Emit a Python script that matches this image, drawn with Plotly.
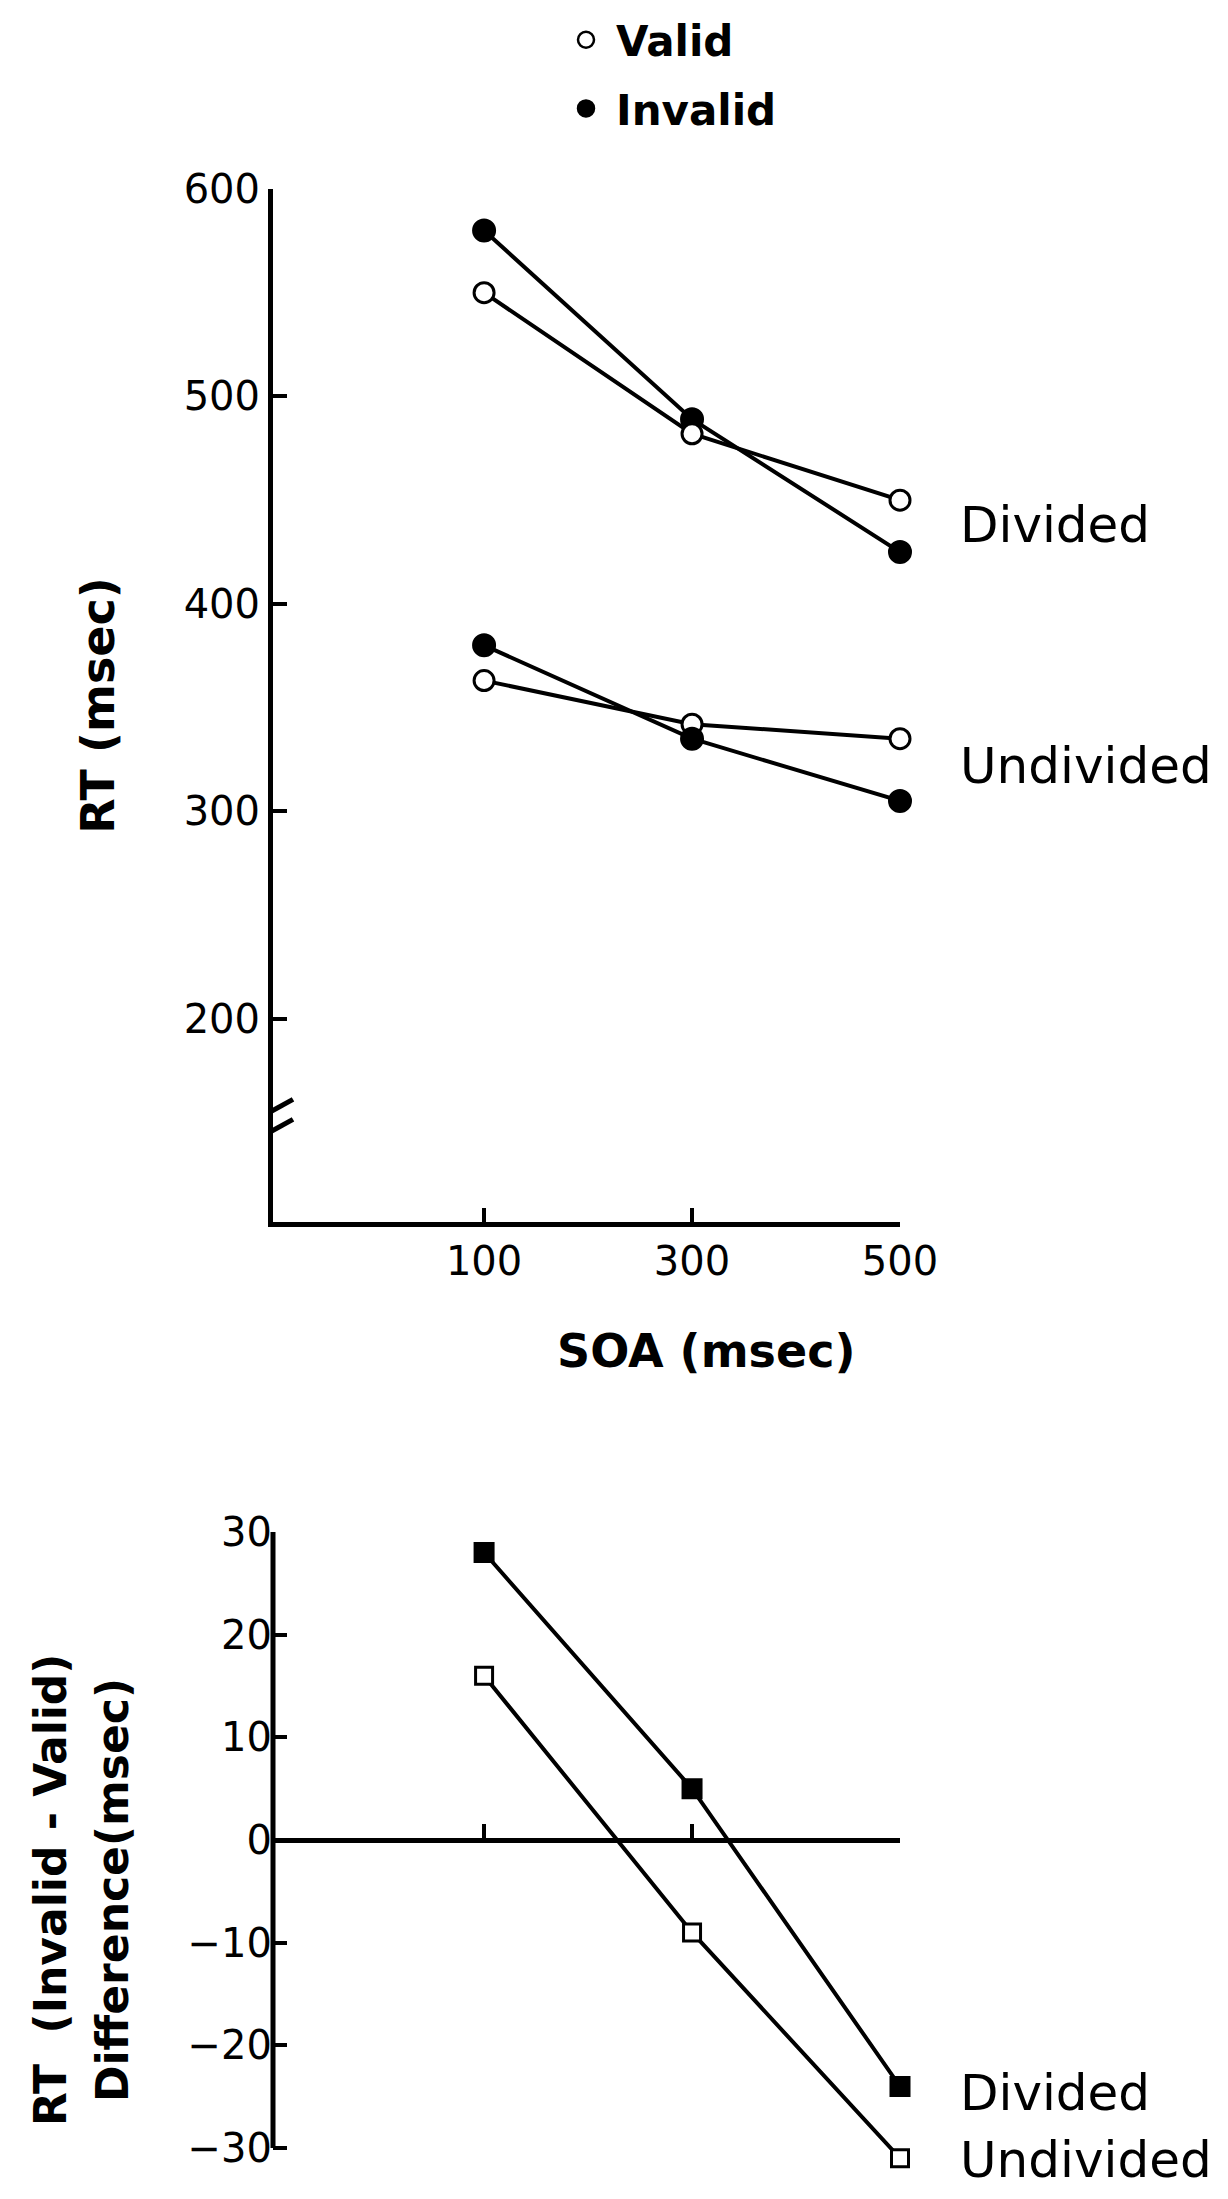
import plotly.graph_objects as go

# ---- data -------------------------------------------------------------
soa = [100, 300, 500]

divided_valid = [550, 482, 450]
divided_invalid = [580, 489, 425]
undivided_valid = [363, 342, 335]
undivided_invalid = [380, 335, 305]

diff_divided = [28, 5, -24]
diff_undivided = [16, -9, -31]

rt_ticks = [200, 300, 400, 500, 600]
diff_ticks = [-30, -20, -10, 0, 10, 20, 30]
diff_labels = ["\u221230", "\u221220", "\u221210", "0", "10", "20", "30"]

# ---- page geometry (pixels) ------------------------------------------
W, H = 1228, 2199
FONT = "DejaVu Sans"


def fx(p):
    return p / W


def fy(p):
    return 1 - p / H


x_dom = [fx(273), fx(900)]
top_dom = [fy(1222), fy(189)]
# difference panel: -30..30 spans 1532..2148 px, range padded to -32 below
DIFF_RANGE = [-32, 30]
bot_dom = [fy(2148 + 2 * 616 / 60), fy(1532)]
zero_pos = bot_dom[0] + (0 - DIFF_RANGE[0]) / (DIFF_RANGE[1] - DIFF_RANGE[0]) * (bot_dom[1] - bot_dom[0])

BLACK = "black"
LINE_W = 4
AXIS_W = 5

fig = go.Figure()


def series(x, y, axes, symbol, fill, size):
    xa, ya = axes
    fig.add_trace(go.Scatter(
        x=x, y=y, mode="lines+markers", xaxis=xa, yaxis=ya,
        line=dict(color=BLACK, width=LINE_W),
        marker=dict(symbol=symbol, size=size, color=fill,
                    line=dict(color=BLACK, width=3)),
        cliponaxis=False, showlegend=False, hoverinfo="x+y",
    ))


# upper panel: RT by SOA
series(soa, divided_invalid, ("x", "y"), "circle", BLACK, 21)
series(soa, divided_valid, ("x", "y"), "circle", "white", 20)
series(soa, undivided_valid, ("x", "y"), "circle", "white", 20)
series(soa, undivided_invalid, ("x", "y"), "circle", BLACK, 21)

# lower panel: invalid - valid difference
series(soa, diff_undivided, ("x2", "y2"), "square", "white", 17)
series(soa, diff_divided, ("x2", "y2"), "square", BLACK, 18)

# legend entries (marker only)
for name, fill in [("Valid", "white"), ("Invalid", BLACK)]:
    fig.add_trace(go.Scatter(
        x=[None], y=[None], mode="markers", name=name,
        xaxis="x", yaxis="y", legendgroup=name,
        marker=dict(symbol="circle", size=16, color=fill,
                    line=dict(color=BLACK, width=2.5)),
    ))

tick_font = dict(family=FONT, size=40, color=BLACK)
title_font = dict(family=FONT, size=46, color=BLACK, weight="bold")

common_axis = dict(
    showline=True, linecolor=BLACK, linewidth=AXIS_W,
    ticks="inside", ticklen=14, tickwidth=4, tickcolor=BLACK,
    showgrid=False, zeroline=False, tickfont=tick_font,
    automargin=False, fixedrange=True,
)

fig.update_layout(
    width=W, height=H,
    margin=dict(l=0, r=0, t=0, b=0),
    paper_bgcolor="white", plot_bgcolor="rgba(0,0,0,0)",
    font=dict(family=FONT, color=BLACK),
    xaxis=dict(
        common_axis, domain=x_dom, anchor="y", range=[-103, 500],
        tickvals=soa, ticktext=[str(v) for v in soa],
    ),
    yaxis=dict(
        common_axis, domain=top_dom, anchor="x", range=[102, 600],
        tickvals=rt_ticks,
        title=dict(text="RT (msec)", font=title_font, standoff=56),
    ),
    xaxis2=dict(
        common_axis, domain=x_dom, anchor="free", position=zero_pos,
        range=[-103, 500], tickvals=soa, showticklabels=False,
    ),
    yaxis2=dict(
        common_axis, showline=False, domain=bot_dom, anchor="x2",
        range=DIFF_RANGE, tickvals=diff_ticks, ticktext=diff_labels,
    ),
    legend=dict(
        x=fx(556), xanchor="left", y=fy(6), yanchor="top",
        font=dict(family=FONT, size=42, color=BLACK, weight="bold"),
        bgcolor="rgba(0,0,0,0)", tracegroupgap=11, itemwidth=50,
    ),
)

# vertical axis line of the difference panel, from -30 to 30
fig.add_shape(type="line", xref="x2 domain", yref="y2", x0=0, x1=0, y0=-30, y1=30,
              line=dict(color=BLACK, width=AXIS_W))

# axis break on the RT axis
BREAK_RT = 151
fig.add_shape(type="rect", xref="x", yref="y", xsizemode="pixel", ysizemode="pixel",
              xanchor=-103, yanchor=BREAK_RT, x0=-6, x1=6, y0=-9, y1=9,
              fillcolor="white", line=dict(width=0))
for dy in (10, -10):
    fig.add_shape(type="line", xref="x", yref="y", xsizemode="pixel", ysizemode="pixel",
                  xanchor=-103, yanchor=BREAK_RT,
                  x0=-18, y0=dy - 10, x1=20, y1=dy + 11,
                  line=dict(color=BLACK, width=5))

# x-axis title of the RT panel
fig.add_annotation(x=fx(706), y=fy(1351), xref="paper", yref="paper",
                   text="SOA (msec)", showarrow=False, xanchor="center",
                   yanchor="middle", font=title_font)

# y-axis title of the difference panel (two stacked lines)
diff_title_font = dict(family=FONT, size=44, color=BLACK, weight="bold")
for text, xc in [("RT  (Invalid - Valid)", 50), ("Difference(msec)", 112)]:
    fig.add_annotation(x=fx(xc), y=fy(1890), xref="paper", yref="paper",
                       text=text, textangle=-90, showarrow=False,
                       xanchor="center", yanchor="middle", font=diff_title_font)

label_font = dict(family=FONT, size=50, color=BLACK)


def side_label(text, y, xa, ya):
    fig.add_annotation(x=500, y=y, xref=xa, yref=ya, text=text, showarrow=False,
                       xanchor="left", yanchor="middle", xshift=58, font=label_font)


side_label("Divided", 438, "x", "y")
side_label("Undivided", 322, "x", "y")
side_label("Divided", -24.6, "x2", "y2")
side_label("Undivided", -31.2, "x2", "y2")

fig.write_html("out.html")
